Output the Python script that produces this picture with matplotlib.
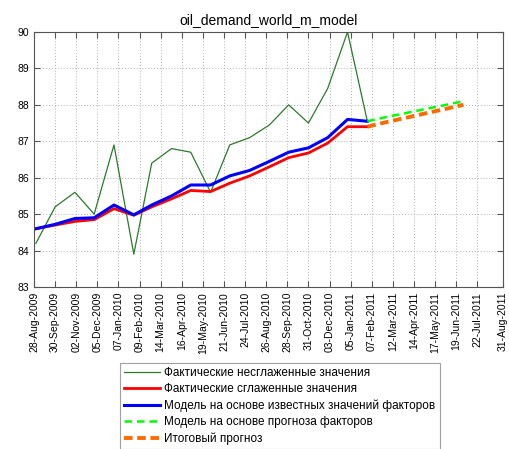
import matplotlib
matplotlib.use("Agg")
import matplotlib.pyplot as plt
import matplotlib.dates as mdates
import pandas as pd
import numpy as np

plt.rcParams['font.family'] = ['Liberation Sans', 'DejaVu Sans']

title = "oil_demand_world_m_model"
hist_dates = pd.date_range("2009-08-31", periods=18, freq="ME")
fc_dates = pd.date_range("2011-01-31", periods=6, freq="ME")

actual_raw = [84.2, 85.2, 85.6, 85.0, 86.9, 83.9, 86.4, 86.8, 86.7, 85.6,
              86.9, 87.1, 87.45, 88.0, 87.5, 88.45, 90.0, 87.55]
actual_smooth = [84.6, 84.7, 84.8, 84.85, 85.15, 84.97, 85.2, 85.42, 85.65, 85.62,
                 85.85, 86.05, 86.3, 86.55, 86.68, 86.95, 87.4, 87.4]
model_known = [84.6, 84.72, 84.88, 84.9, 85.25, 84.98, 85.25, 85.5, 85.8, 85.8,
               86.05, 86.2, 86.45, 86.7, 86.82, 87.1, 87.6, 87.55]
model_fc = [87.55, 87.66, 87.77, 87.88, 87.99, 88.1]
final_fc = [87.4, 87.52, 87.64, 87.76, 87.88, 88.0]

labels = ["Фактические несглаженные значения",
          "Фактические сглаженные значения",
          "Модель на основе известных значений факторов",
          "Модель на основе прогноза факторов",
          "Итоговый прогноз"]

x_start = pd.Timestamp("2009-08-28")
x_end = pd.Timestamp("2011-08-31")
tick_dates = list(pd.date_range(x_start, periods=22, freq="33D")) + [x_end]

fig = plt.figure(figsize=(5.09, 4.49), dpi=100)
ax = fig.add_axes([34/509, 1-287/449, (503-34)/509, (287-32)/449])

ax.plot(hist_dates, actual_raw, color="#2a7a2a", lw=0.9, label=labels[0])
ax.plot(hist_dates, actual_smooth, color="#ff0000", lw=2.0, label=labels[1])
ax.plot(hist_dates, model_known, color="#0000ff", lw=2.2, label=labels[2])
ax.plot(fc_dates, model_fc, color="#00ff00", lw=1.8, ls=(0, (3, 2)), label=labels[3])
ax.plot(fc_dates, final_fc, color="#ff6a00", lw=2.8, ls=(0, (2.2, 1.2)), label=labels[4])

ax.set_xlim(x_start, x_end)
ax.set_ylim(83, 90)
ax.set_yticks(range(83, 91))
ax.set_xticks(tick_dates)
ax.set_xticklabels([d.strftime("%d-%b-%Y") for d in tick_dates], rotation=90, fontsize=7.5)
ax.tick_params(axis='y', labelsize=7.5)
ax.tick_params(direction='in', length=4, top=True, right=True, color="#555555")
ax.grid(True, ls=(0, (1, 2)), color="#b0b0b0", lw=0.7)
for s in ax.spines.values():
    s.set_color("#555555")
    s.set_linewidth(0.8)
ax.set_title(title, fontsize=10, pad=6)

leg = fig.legend(loc="upper left", bbox_to_anchor=(120/509, 1-363/449), fontsize=8.5,
                 frameon=True, fancybox=False, edgecolor="#888888", handlelength=3.0,
                 handletextpad=0.4, labelspacing=0.35, borderpad=0.35, borderaxespad=0)
leg.get_frame().set_linewidth(0.8)

fig.savefig("out.png", dpi=100)
